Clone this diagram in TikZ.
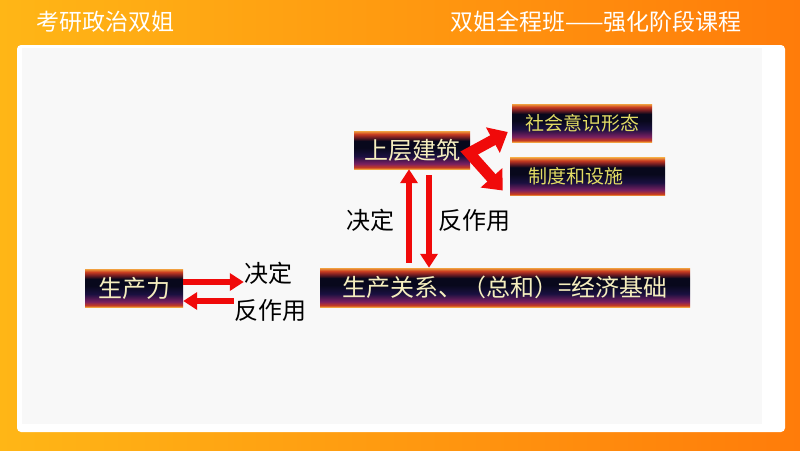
\documentclass[tikz,border=0pt]{standalone}
\usepackage{fontspec}
\setmainfont{Noto Sans CJK SC}
\usetikzlibrary{arrows.meta}
\definecolor{bgleft}{RGB}{255,182,22}
\definecolor{bgright}{RGB}{255,124,10}
\definecolor{panelgray}{RGB}{248,248,248}
\definecolor{barorange}{RGB}{240,160,64}
\definecolor{barred}{RGB}{200,60,32}
\definecolor{barbrown}{RGB}{120,30,34}
\definecolor{barpurple}{RGB}{122,32,96}
\definecolor{barnavy}{RGB}{26,16,64}
\definecolor{bardark}{RGB}{8,8,28}
\definecolor{barcream}{RGB}{245,238,190}
\definecolor{baryellow}{RGB}{226,220,100}
\definecolor{arrowred}{RGB}{240,10,10}
\pgfdeclareverticalshading{barshade}{100bp}{color(0bp)=(barorange); color(25bp)=(barorange);
  color(27bp)=(barred); color(32bp)=(barpurple); color(42bp)=(barnavy); color(53bp)=(bardark);
  color(62bp)=(bardark); color(67bp)=(barbrown); color(71bp)=(barred); color(75bp)=(barorange);
  color(100bp)=(barorange)}
\tikzset{
  barbox/.style={shade, shading=barshade, inner sep=0pt, minimum height=38pt, text=barcream,
    font=\fontsize{24}{28}\selectfont},
  smallbar/.style={barbox, text=baryellow, font=\fontsize{19}{22}\selectfont},
  relabel/.style={inner sep=0pt, font=\fontsize{24}{28}\selectfont},
  headline/.style={inner sep=0pt, text=white, font=\fontsize{23}{27}\selectfont},
  redarrow/.style={draw=arrowred, line width=6pt, -{Triangle[length=14pt,width=17pt]}},
}
\begin{document}
\begin{tikzpicture}[x=1pt,y=-1pt]
\useasboundingbox (0,0) rectangle (800,450);
% background and panel
\shade[left color=bgleft, right color=bgright] (0,0) rectangle (800,450);
\fill[white, rounded corners=4pt] (17,45) rectangle (785,432);
\fill[panelgray] (22,48) rectangle (762,424);
\node[headline] (course) at (105,22) {考研政治双姐};
\node[headline] (stage) at (596,22) {双姐全程班——强化阶段课程};

% boxes
\node[barbox, minimum width=116pt] (sup) at (412,150) {上层建筑};
\node[smallbar, minimum width=140pt] (ideo) at (582,123) {社会意识形态};
\node[smallbar, minimum width=155pt, text width=119pt, align=left, inner xsep=18pt] (inst) at (587.5,176.5) {制度和设施};
\node[barbox, minimum width=98pt] (prod) at (134,288) {生产力};
\node[barbox, minimum width=370pt, minimum height=39pt] (rel) at (505,287.5) {生产关系、（总和）=经济基础};

% labels
\node[relabel] (dec1) at (268,273) {决定};
\node[relabel] (rea1) at (270,310) {反作用};
\node[relabel] (dec2) at (370,220) {决定};
\node[relabel] (rea2) at (474,220) {反作用};

% arrows
\draw[redarrow] ([yshift=6pt]prod.east) -- ([yshift=6pt]prod.east -| dec1.west);
\draw[redarrow] ([yshift=-13pt]prod.east -| rea1.west) -- ([yshift=-13pt]prod.east);
\draw[redarrow, shorten <=5pt] ([xshift=-3pt]sup.south |- rel.north) -- ([xshift=-3pt]sup.south);
\draw[redarrow, shorten <=6pt] ([xshift=17pt]sup.south) -- ([xshift=17pt]sup.south |- rel.north);
\coordinate (bend) at ([xshift=-1pt,yshift=-3pt]sup.east);
\draw[draw=arrowred, line width=11pt, line join=miter,
  {Triangle[length=17pt,width=28pt]}-{Triangle[length=17pt,width=28pt]}]
  ([xshift=-4pt,yshift=-9pt]ideo.west) -- (bend) -- ([xshift=-7pt,yshift=-14pt]inst.west);
\end{tikzpicture}
\end{document}
